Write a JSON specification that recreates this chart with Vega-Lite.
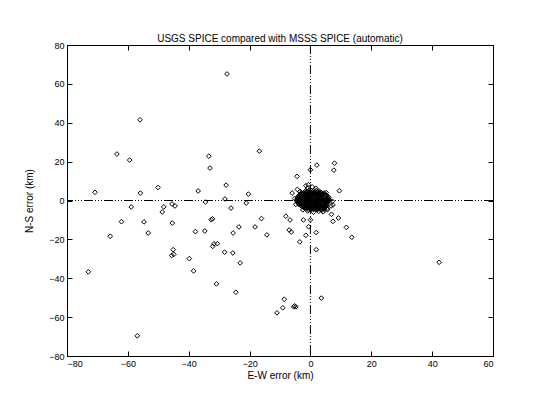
{
  "$schema": "https://vega.github.io/schema/vega-lite/v6.json",
  "width": 426,
  "height": 311,
  "autosize": {"type": "none"},
  "padding": {"left": 67, "top": 45, "right": 57, "bottom": 44},
  "background": "white",
  "title": {"text": "USGS SPICE compared with MSSS SPICE (automatic)", "font": "Liberation Sans", "fontSize": 10, "fontWeight": "normal", "color": "black", "offset": -3},
  "config": {
    "view": {"stroke": "black", "strokeWidth": 1},
    "axis": {"grid": false, "domainColor": "black", "tickColor": "black", "labelColor": "black", "titleColor": "black", "labelFont": "Liberation Sans", "titleFont": "Liberation Sans", "labelFontSize": 9, "titleFontSize": 10, "titleFontWeight": "normal", "tickSize": -5, "labelPadding": 8}
  },
  "datasets": {
    "zero": [{"x": 0, "y": 0}],
    "pts": [
      {"x": -56.0, "y": 41.5}, {"x": -27.4, "y": 65.1}, {"x": -63.6, "y": 23.9}, {"x": -59.4, "y": 20.8},
      {"x": -33.4, "y": 22.8}, {"x": -33.0, "y": 16.7}, {"x": -16.8, "y": 25.4}, {"x": -70.8, "y": 4.2},
      {"x": -55.9, "y": 3.8}, {"x": -50.1, "y": 6.7}, {"x": -36.9, "y": 4.9}, {"x": -27.7, "y": 7.9},
      {"x": -20.4, "y": 3.3}, {"x": -28.1, "y": 0.8}, {"x": -58.9, "y": -3.3}, {"x": -48.2, "y": -3.3},
      {"x": -48.7, "y": -5.9}, {"x": -45.5, "y": -1.8}, {"x": -44.5, "y": -2.8}, {"x": -34.5, "y": -0.8},
      {"x": -26.1, "y": -3.9}, {"x": -21.1, "y": -1.3}, {"x": -62.1, "y": -10.9}, {"x": -54.7, "y": -11.0},
      {"x": -45.4, "y": -11.6}, {"x": -32.6, "y": -9.9}, {"x": -32.2, "y": -9.4}, {"x": -16.1, "y": -9.3},
      {"x": -65.8, "y": -18.4}, {"x": -53.3, "y": -16.7}, {"x": -37.8, "y": -16.0}, {"x": -34.7, "y": -15.7},
      {"x": -25.4, "y": -16.7}, {"x": -23.5, "y": -13.6}, {"x": -18.2, "y": -13.6}, {"x": -14.3, "y": -17.7},
      {"x": -45.1, "y": -25.3}, {"x": -45.6, "y": -28.3}, {"x": -44.9, "y": -27.7}, {"x": -32.1, "y": -23.6},
      {"x": -31.7, "y": -22.3}, {"x": -30.6, "y": -22.2}, {"x": -28.2, "y": -26.6}, {"x": -25.5, "y": -27.0},
      {"x": -23.1, "y": -32.1}, {"x": -39.8, "y": -29.9}, {"x": -38.4, "y": -36.2}, {"x": -73.0, "y": -36.7},
      {"x": -30.9, "y": -42.9}, {"x": -24.5, "y": -47.2}, {"x": -11.0, "y": -57.8}, {"x": -56.9, "y": -69.6},
      {"x": 7.9, "y": 19.2}, {"x": 2.1, "y": 18.2}, {"x": 0.0, "y": 15.8}, {"x": 7.7, "y": 15.6},
      {"x": -4.4, "y": 12.4}, {"x": 9.5, "y": 5.0}, {"x": -6.0, "y": 3.8}, {"x": 7.4, "y": -2.3},
      {"x": -8.1, "y": -8.1}, {"x": -6.7, "y": -10.0}, {"x": -2.3, "y": -10.0}, {"x": 0.0, "y": -9.9},
      {"x": 6.9, "y": -7.1}, {"x": 9.2, "y": -9.0}, {"x": 7.4, "y": -10.7}, {"x": -0.6, "y": -13.5},
      {"x": 11.8, "y": -13.8}, {"x": -7.0, "y": -15.2}, {"x": -6.3, "y": -16.2}, {"x": -1.5, "y": -17.9},
      {"x": 1.9, "y": -16.5}, {"x": 13.6, "y": -18.9}, {"x": -3.5, "y": -21.3}, {"x": 1.9, "y": -25.3},
      {"x": 42.3, "y": -31.8}, {"x": 3.6, "y": -50.2}, {"x": -8.6, "y": -50.8}, {"x": -9.1, "y": -55.2},
      {"x": -5.5, "y": -54.7}, {"x": -4.8, "y": -54.7}, {"x": -5.2, "y": -54.2}, {"x": -0.7, "y": 8.1},
      {"x": -1.5, "y": 7.6}, {"x": -4.3, "y": 5.7}, {"x": -3.4, "y": 4.7}, {"x": 5.6, "y": -4.7},
      {"x": 3.7, "y": -5.1}, {"x": 2.3, "y": -4.6},
      {"x": -1.4, "y": 5.0}, {"x": -0.6, "y": 5.1}, {"x": 0.3, "y": 4.9}, {"x": 1.1, "y": 5.0}, {"x": 1.9, "y": 5.1}, {"x": 2.8, "y": 4.9},
      {"x": -3.0, "y": 3.8}, {"x": -2.2, "y": 3.7}, {"x": -1.3, "y": 3.9}, {"x": -0.5, "y": 3.8}, {"x": 0.4, "y": 3.7}, {"x": 1.2, "y": 3.9}, {"x": 2.0, "y": 3.8}, {"x": 2.9, "y": 3.7}, {"x": 3.7, "y": 3.8}, {"x": 4.5, "y": 3.9},
      {"x": -3.8, "y": 2.6}, {"x": -3.0, "y": 2.5}, {"x": -2.1, "y": 2.7}, {"x": -1.3, "y": 2.6}, {"x": -0.4, "y": 2.5}, {"x": 0.4, "y": 2.6}, {"x": 1.3, "y": 2.7}, {"x": 2.1, "y": 2.6}, {"x": 2.9, "y": 2.5}, {"x": 3.8, "y": 2.6}, {"x": 4.6, "y": 2.7}, {"x": 5.4, "y": 2.6},
      {"x": -4.3, "y": 1.4}, {"x": -3.5, "y": 1.3}, {"x": -2.7, "y": 1.5}, {"x": -1.9, "y": 1.4}, {"x": -1.0, "y": 1.3}, {"x": -0.2, "y": 1.4}, {"x": 0.6, "y": 1.5}, {"x": 1.4, "y": 1.4}, {"x": 2.2, "y": 1.3}, {"x": 3.1, "y": 1.4}, {"x": 3.9, "y": 1.5}, {"x": 4.7, "y": 1.4}, {"x": 5.5, "y": 1.3}, {"x": 6.1, "y": 1.4},
      {"x": -4.5, "y": 0.2}, {"x": -3.6, "y": 0.1}, {"x": -2.8, "y": 0.3}, {"x": -2.0, "y": 0.2}, {"x": -1.2, "y": 0.1}, {"x": -0.4, "y": 0.2}, {"x": 0.5, "y": 0.3}, {"x": 1.3, "y": 0.2}, {"x": 2.1, "y": 0.1}, {"x": 2.9, "y": 0.2}, {"x": 3.7, "y": 0.3}, {"x": 4.6, "y": 0.2}, {"x": 5.4, "y": 0.1}, {"x": 6.2, "y": 0.2},
      {"x": -4.2, "y": -1.0}, {"x": -3.4, "y": -1.1}, {"x": -2.6, "y": -0.9}, {"x": -1.8, "y": -1.0}, {"x": -0.9, "y": -1.1}, {"x": -0.1, "y": -1.0}, {"x": 0.7, "y": -0.9}, {"x": 1.5, "y": -1.0}, {"x": 2.4, "y": -1.1}, {"x": 3.2, "y": -1.0}, {"x": 4.0, "y": -0.9}, {"x": 4.8, "y": -1.0}, {"x": 5.6, "y": -1.1},
      {"x": -3.6, "y": -2.2}, {"x": -2.8, "y": -2.1}, {"x": -2.0, "y": -2.3}, {"x": -1.1, "y": -2.2}, {"x": -0.3, "y": -2.1}, {"x": 0.5, "y": -2.2}, {"x": 1.4, "y": -2.3}, {"x": 2.2, "y": -2.2}, {"x": 3.0, "y": -2.1}, {"x": 3.8, "y": -2.2}, {"x": 4.6, "y": -2.3}, {"x": 5.3, "y": -2.2},
      {"x": -2.5, "y": -3.4}, {"x": -1.6, "y": -3.3}, {"x": -0.8, "y": -3.5}, {"x": 0.0, "y": -3.4}, {"x": 0.9, "y": -3.3}, {"x": 1.7, "y": -3.4}, {"x": 2.5, "y": -3.5}, {"x": 3.3, "y": -3.4}, {"x": 4.2, "y": -3.3}, {"x": 5.0, "y": -3.4},
      {"x": -0.8, "y": -4.5}, {"x": 0.1, "y": -4.4}, {"x": 1.0, "y": -4.6}, {"x": 1.9, "y": -4.5}, {"x": 2.8, "y": -4.4}, {"x": 3.7, "y": -4.5}, {"x": 4.6, "y": -4.6},
      {"x": -2.0, "y": 4.4}, {"x": -1.1, "y": 4.4}, {"x": -0.2, "y": 4.3}, {"x": 0.7, "y": 4.4}, {"x": 1.5, "y": 4.5}, {"x": 2.4, "y": 4.4}, {"x": 3.3, "y": 4.3},
      {"x": -3.4, "y": 3.2}, {"x": -2.6, "y": 3.1}, {"x": -1.7, "y": 3.2}, {"x": -0.9, "y": 3.3}, {"x": 0.0, "y": 3.2}, {"x": 0.8, "y": 3.1}, {"x": 1.6, "y": 3.2}, {"x": 2.5, "y": 3.3}, {"x": 3.3, "y": 3.2}, {"x": 4.1, "y": 3.1}, {"x": 4.9, "y": 3.2},
      {"x": -4.0, "y": 2.0}, {"x": -3.2, "y": 1.9}, {"x": -2.4, "y": 2.1}, {"x": -1.6, "y": 2.0}, {"x": -0.8, "y": 1.9}, {"x": 0.0, "y": 2.0}, {"x": 0.9, "y": 2.1}, {"x": 1.7, "y": 2.0}, {"x": 2.5, "y": 1.9}, {"x": 3.4, "y": 2.0}, {"x": 4.2, "y": 2.1}, {"x": 5.0, "y": 2.0}, {"x": 5.8, "y": 1.9},
      {"x": -4.4, "y": 0.8}, {"x": -3.9, "y": 0.7}, {"x": -3.1, "y": 0.8}, {"x": -2.3, "y": 0.9}, {"x": -1.5, "y": 0.8}, {"x": -0.7, "y": 0.7}, {"x": 0.1, "y": 0.8}, {"x": 0.9, "y": 0.9}, {"x": 1.8, "y": 0.8}, {"x": 2.6, "y": 0.7}, {"x": 3.4, "y": 0.8}, {"x": 4.2, "y": 0.9}, {"x": 5.0, "y": 0.8}, {"x": 5.9, "y": 0.7},
      {"x": -4.4, "y": -0.4}, {"x": -3.8, "y": -0.5}, {"x": -3.0, "y": -0.4}, {"x": -2.2, "y": -0.3}, {"x": -1.4, "y": -0.4}, {"x": -0.6, "y": -0.5}, {"x": 0.3, "y": -0.4}, {"x": 1.1, "y": -0.3}, {"x": 1.9, "y": -0.4}, {"x": 2.7, "y": -0.5}, {"x": 3.6, "y": -0.4}, {"x": 4.4, "y": -0.3}, {"x": 5.2, "y": -0.4}, {"x": 6.0, "y": -0.5},
      {"x": -3.9, "y": -1.6}, {"x": -3.0, "y": -1.7}, {"x": -2.2, "y": -1.6}, {"x": -1.4, "y": -1.5}, {"x": -0.5, "y": -1.6}, {"x": 0.3, "y": -1.7}, {"x": 1.1, "y": -1.6}, {"x": 1.9, "y": -1.5}, {"x": 2.8, "y": -1.6}, {"x": 3.6, "y": -1.7}, {"x": 4.4, "y": -1.6}, {"x": 5.2, "y": -1.5},
      {"x": -3.0, "y": -2.8}, {"x": -2.2, "y": -2.9}, {"x": -1.3, "y": -2.8}, {"x": -0.5, "y": -2.7}, {"x": 0.4, "y": -2.8}, {"x": 1.2, "y": -2.9}, {"x": 2.0, "y": -2.8}, {"x": 2.9, "y": -2.7}, {"x": 3.7, "y": -2.8}, {"x": 4.5, "y": -2.9}, {"x": 5.2, "y": -2.8},
      {"x": -1.8, "y": -4.0}, {"x": -0.9, "y": -3.9}, {"x": 0.0, "y": -4.0}, {"x": 0.9, "y": -4.1}, {"x": 1.8, "y": -4.0}, {"x": 2.6, "y": -3.9}, {"x": 3.5, "y": -4.0}, {"x": 4.3, "y": -4.1},
      {"x": -2.6, "y": 3.5}, {"x": -1.8, "y": 3.5}, {"x": -0.9, "y": 3.6}, {"x": -0.1, "y": 3.5}, {"x": 0.8, "y": 3.4}, {"x": 1.6, "y": 3.5}, {"x": 2.4, "y": 3.6}, {"x": 3.3, "y": 3.5}, {"x": 4.1, "y": 3.4},
      {"x": -3.4, "y": 2.3}, {"x": -2.6, "y": 2.2}, {"x": -1.7, "y": 2.3}, {"x": -0.9, "y": 2.4}, {"x": 0.0, "y": 2.3}, {"x": 0.8, "y": 2.2}, {"x": 1.7, "y": 2.3}, {"x": 2.5, "y": 2.4}, {"x": 3.3, "y": 2.3}, {"x": 4.2, "y": 2.2}, {"x": 5.0, "y": 2.3},
      {"x": -3.9, "y": 1.1}, {"x": -3.1, "y": 1.0}, {"x": -2.3, "y": 1.1}, {"x": -1.4, "y": 1.2}, {"x": -0.6, "y": 1.1}, {"x": 0.2, "y": 1.0}, {"x": 1.0, "y": 1.1}, {"x": 1.8, "y": 1.2}, {"x": 2.7, "y": 1.1}, {"x": 3.5, "y": 1.0}, {"x": 4.3, "y": 1.1}, {"x": 5.1, "y": 1.2}, {"x": 5.8, "y": 1.1},
      {"x": -4.1, "y": -0.1}, {"x": -3.2, "y": 0.0}, {"x": -2.4, "y": -0.1}, {"x": -1.6, "y": -0.2}, {"x": -0.8, "y": -0.1}, {"x": 0.1, "y": 0.0}, {"x": 0.9, "y": -0.1}, {"x": 1.7, "y": -0.2}, {"x": 2.5, "y": -0.1}, {"x": 3.3, "y": 0.0}, {"x": 4.2, "y": -0.1}, {"x": 5.0, "y": -0.2}, {"x": 5.8, "y": -0.1},
      {"x": -3.8, "y": -1.3}, {"x": -3.0, "y": -1.4}, {"x": -2.2, "y": -1.3}, {"x": -1.3, "y": -1.2}, {"x": -0.5, "y": -1.3}, {"x": 0.3, "y": -1.4}, {"x": 1.1, "y": -1.3}, {"x": 1.9, "y": -1.2}, {"x": 2.8, "y": -1.3}, {"x": 3.6, "y": -1.4}, {"x": 4.4, "y": -1.3}, {"x": 5.2, "y": -1.2},
      {"x": -3.2, "y": -2.5}, {"x": -2.4, "y": -2.6}, {"x": -1.5, "y": -2.5}, {"x": -0.7, "y": -2.4}, {"x": 0.1, "y": -2.5}, {"x": 0.9, "y": -2.6}, {"x": 1.8, "y": -2.5}, {"x": 2.6, "y": -2.4}, {"x": 3.4, "y": -2.5}, {"x": 4.2, "y": -2.6}, {"x": 5.0, "y": -2.5},
      {"x": -2.1, "y": -3.7}, {"x": -1.2, "y": -3.8}, {"x": -0.4, "y": -3.7}, {"x": 0.5, "y": -3.6}, {"x": 1.3, "y": -3.7}, {"x": 2.1, "y": -3.8}, {"x": 3.0, "y": -3.7}, {"x": 3.8, "y": -3.6}, {"x": 4.6, "y": -3.7},
      {"x": -1.0, "y": 6.4}, {"x": 0.6, "y": 7.0}, {"x": 1.8, "y": 6.2}, {"x": -3.5, "y": 4.5}, {"x": 5.2, "y": 4.1}, {"x": 6.8, "y": -2.8},
      {"x": 5.6, "y": -4.2}, {"x": 4.2, "y": -5.8}, {"x": 2.7, "y": -5.6}, {"x": 1.0, "y": -6.0}, {"x": -0.9, "y": -5.4}, {"x": -2.5, "y": -4.8},
      {"x": -4.8, "y": -2.0}, {"x": -5.2, "y": 1.0}, {"x": 7.2, "y": -0.4}
    ]
  },
  "layer": [
    {
      "data": {"name": "zero"},
      "mark": {"type": "rule", "color": "black", "strokeWidth": 1, "strokeDash": [9, 2, 1, 2, 1, 2, 1, 2]},
      "encoding": {
        "x": {"field": "x", "type": "quantitative", "scale": {"domain": [-80, 60], "nice": false, "zero": false},
              "axis": {"orient": "top", "labels": false, "title": null, "values": [-80, -60, -40, -20, 0, 20, 40, 60]}}
      }
    },
    {
      "data": {"name": "zero"},
      "mark": {"type": "rule", "color": "black", "strokeWidth": 1, "strokeDash": [9, 2, 1, 2, 1, 2, 1, 2]},
      "encoding": {
        "y": {"field": "y", "type": "quantitative", "scale": {"domain": [-80, 80], "nice": false, "zero": false},
              "axis": {"orient": "right", "labels": false, "title": null, "values": [-80, -60, -40, -20, 0, 20, 40, 60, 80]}}
      }
    },
    {
      "data": {"name": "pts"},
      "mark": {"type": "point", "shape": "diamond", "filled": false, "stroke": "black", "strokeWidth": 1, "size": 22, "opacity": 1},
      "encoding": {
        "x": {"field": "x", "type": "quantitative",
              "axis": {"orient": "bottom", "title": "E-W error (km)", "values": [-80, -60, -40, -20, 0, 20, 40, 60], "titlePadding": 2}},
        "y": {"field": "y", "type": "quantitative",
              "axis": {"orient": "left", "title": "N-S error (km)", "values": [-80, -60, -40, -20, 0, 20, 40, 60, 80], "titlePadding": 14}}
      }
    }
  ]
}
